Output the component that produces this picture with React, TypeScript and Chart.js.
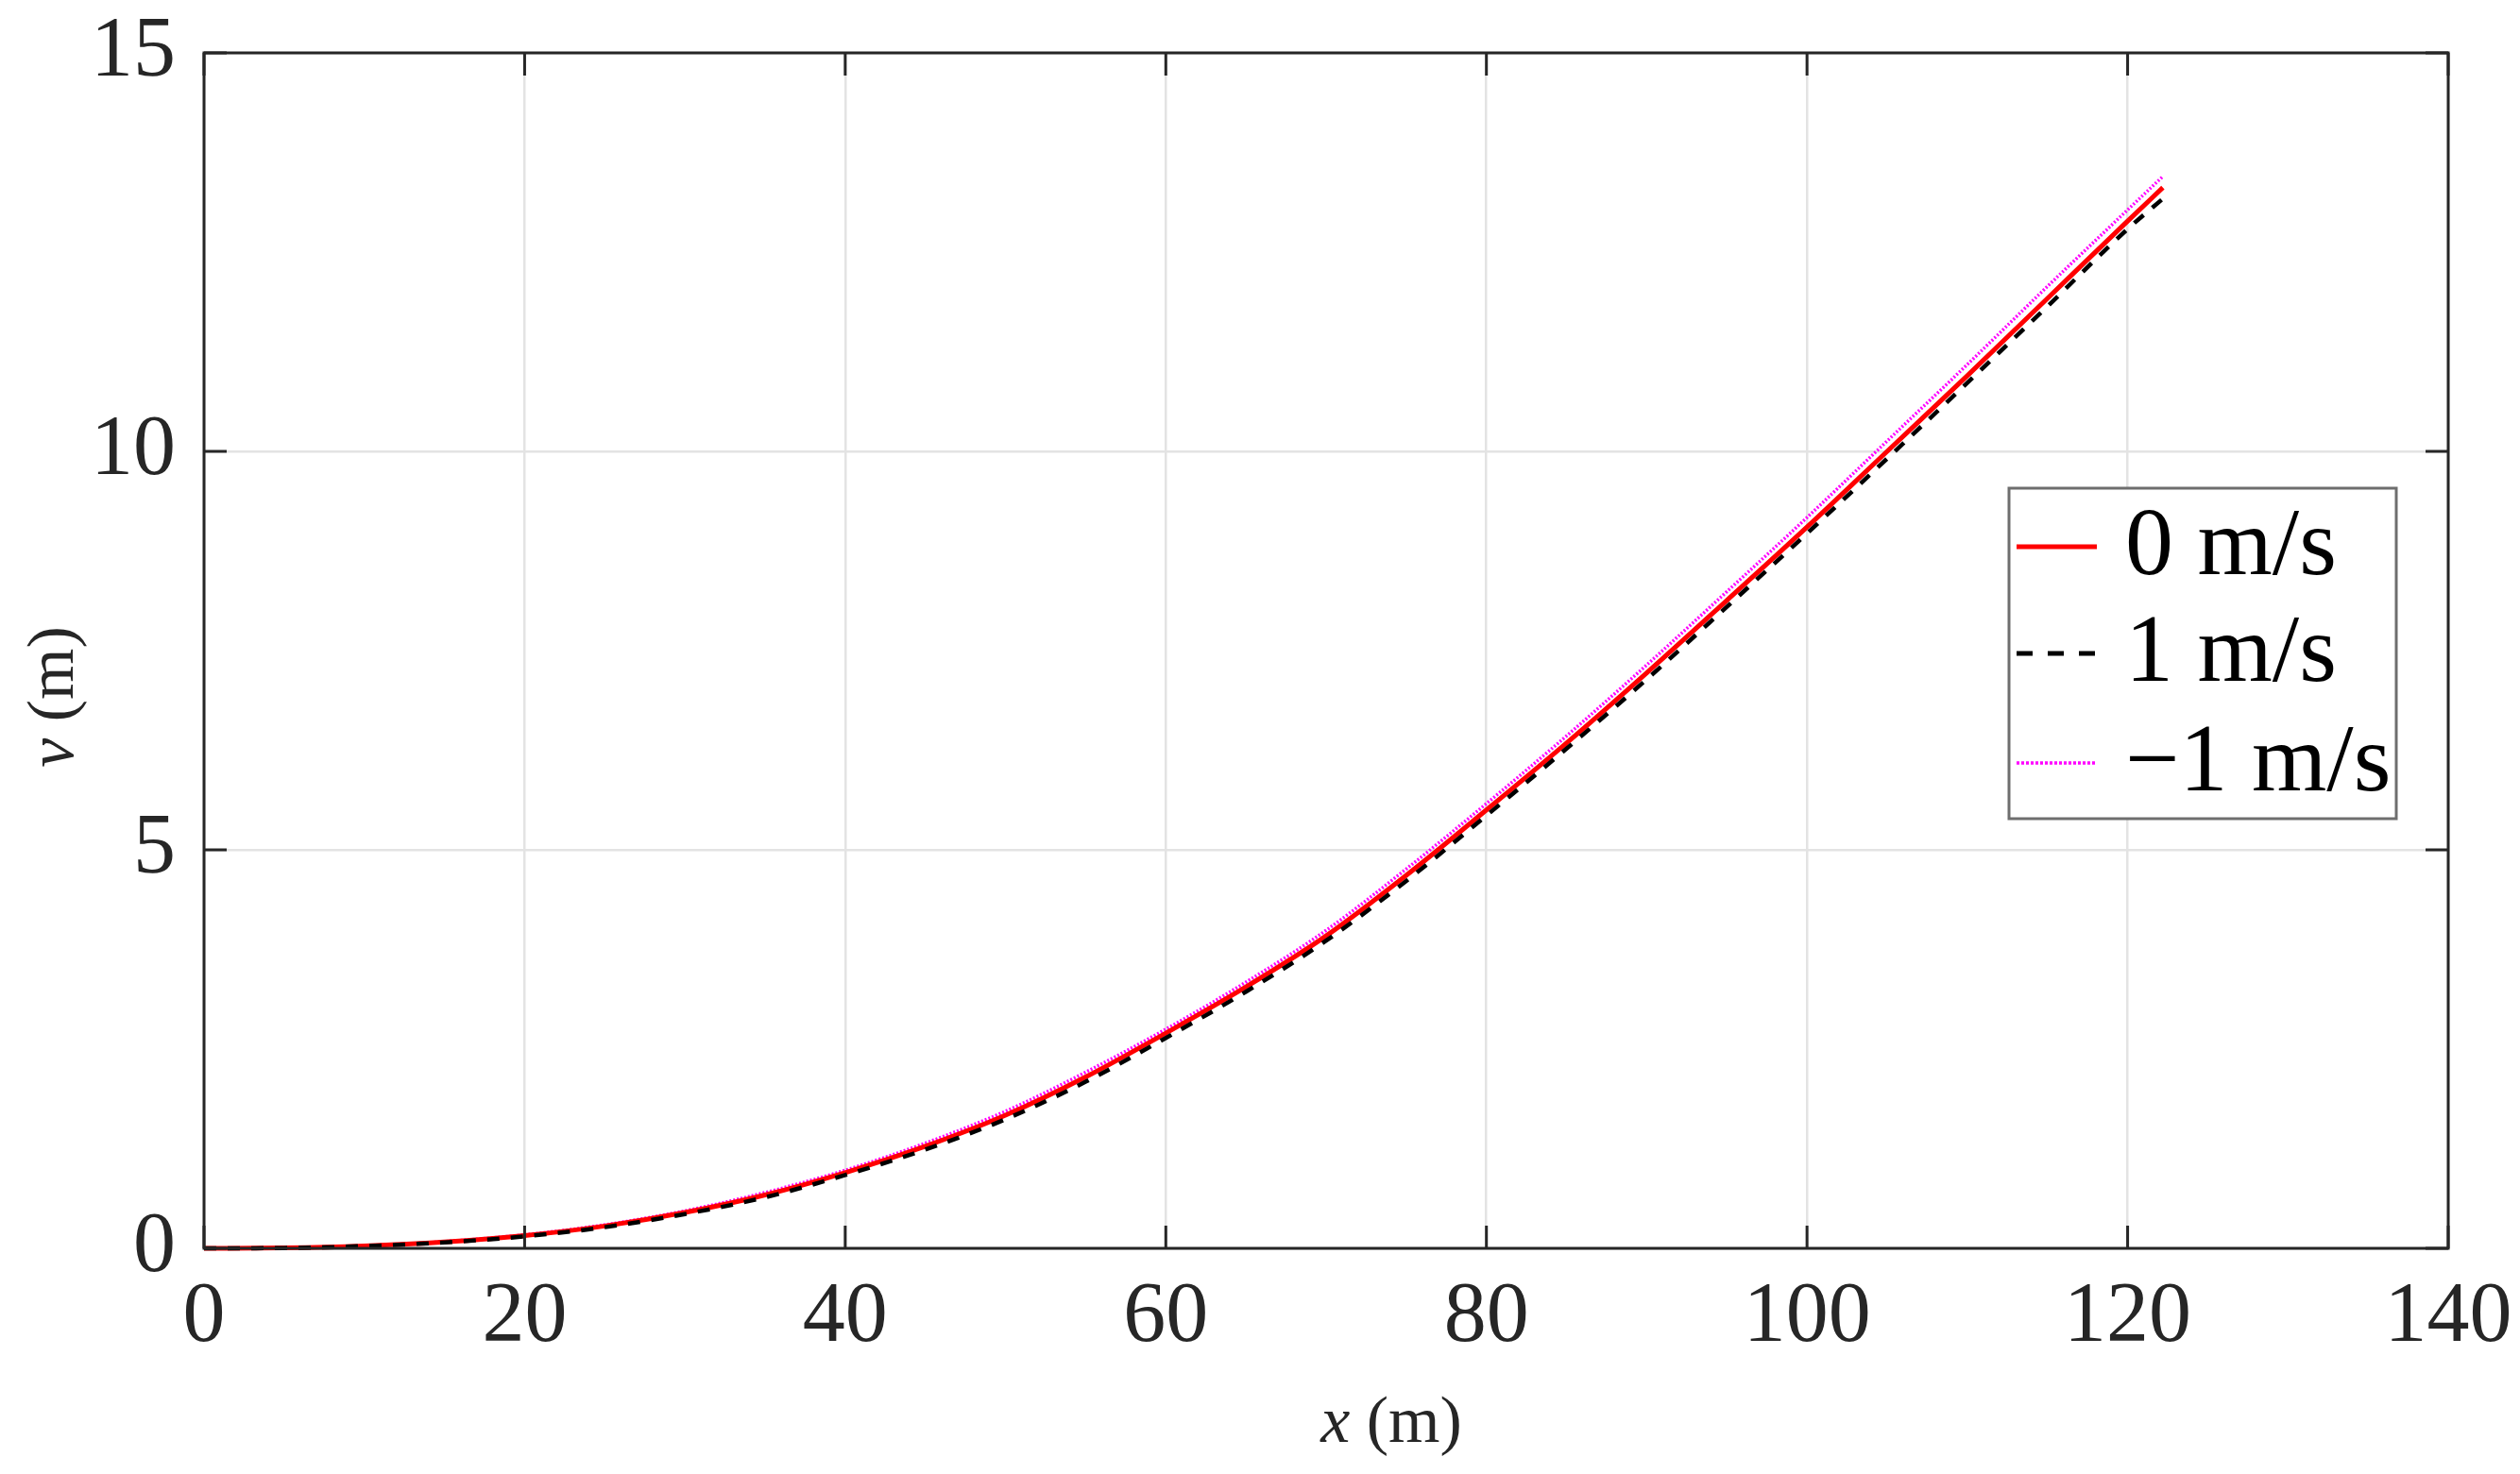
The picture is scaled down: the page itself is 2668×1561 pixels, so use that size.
import React, { useEffect, useRef } from 'react';
import { Chart, registerables } from 'chart.js';

Chart.register(...registerables);

const xValues = [0, 5, 10, 15, 20, 25, 30, 35, 40, 45, 50, 55, 60, 65, 70, 75, 80, 85, 90, 95, 100, 105, 110, 115, 120, 122.2];
const v0 = [0, 0.005, 0.03, 0.08, 0.16, 0.28, 0.45, 0.67, 0.95, 1.28, 1.67, 2.15, 2.70, 3.28, 3.92, 4.68, 5.50, 6.34, 7.22, 8.13, 9.05, 10.0, 10.95, 11.92, 12.89, 13.31];
const v1 = [0, 0.004, 0.028, 0.075, 0.15, 0.265, 0.43, 0.64, 0.92, 1.24, 1.62, 2.09, 2.64, 3.22, 3.86, 4.61, 5.43, 6.27, 7.14, 8.05, 8.97, 9.91, 10.86, 11.82, 12.79, 13.17];
const vm1 = [0, 0.006, 0.032, 0.085, 0.17, 0.295, 0.47, 0.70, 0.98, 1.32, 1.72, 2.21, 2.75, 3.34, 3.99, 4.76, 5.58, 6.43, 7.32, 8.24, 9.17, 10.13, 11.09, 12.07, 13.03, 13.45];
const seriesLabels = ['0 m/s', '1 m/s', '\u22121 m/s'];
const xTicks = [0, 20, 40, 60, 80, 100, 120, 140];
const yTicks = [0, 5, 10, 15];

const FONT = '"Liberation Serif", "Times New Roman", serif';
const AXIS_COLOR = '#262626';

const toPoints = (ys: number[]) => ys.map((y, i) => ({ x: xValues[i], y }));

const legendDashes: (number[])[] = [[], [17, 16], [3, 2]];

const decorPlugin = {
  id: 'decor',
  afterDatasetsDraw(chart: any) {
    const { ctx, chartArea } = chart;
    const { left, right, top, bottom } = chartArea;
    const xs = chart.scales.x;
    const ys = chart.scales.y;
    ctx.save();
    ctx.strokeStyle = AXIS_COLOR;
    ctx.lineWidth = 3;
    const tl = 24;
    ctx.beginPath();
    xTicks.forEach((t) => {
      const px = xs.getPixelForValue(t);
      ctx.moveTo(px, bottom);
      ctx.lineTo(px, bottom - tl);
      ctx.moveTo(px, top);
      ctx.lineTo(px, top + tl);
    });
    yTicks.forEach((t) => {
      const py = ys.getPixelForValue(t);
      ctx.moveTo(left, py);
      ctx.lineTo(left + tl, py);
      ctx.moveTo(right, py);
      ctx.lineTo(right - tl, py);
    });
    ctx.stroke();
    ctx.lineWidth = 3;
    ctx.strokeRect(left, top, right - left, bottom - top);

    // axis titles
    ctx.fillStyle = AXIS_COLOR;
    ctx.textBaseline = 'alphabetic';
    const titleSize = 70;
    const italic = `italic ${titleSize}px ${FONT}`;
    const normal = `${titleSize}px ${FONT}`;
    ctx.font = italic;
    const wx = ctx.measureText('x').width;
    ctx.font = normal;
    const wr = ctx.measureText(' (m)').width;
    const cx = 1473;
    const startX = cx - (wx + wr) / 2;
    ctx.font = italic;
    ctx.textAlign = 'left';
    ctx.fillText('x', startX, 1527);
    ctx.font = normal;
    ctx.fillText(' (m)', startX + wx, 1527);
    ctx.save();
    ctx.translate(77, 738);
    ctx.rotate(-Math.PI / 2);
    ctx.font = italic;
    const wv = ctx.measureText('v').width;
    ctx.font = normal;
    const wr2 = ctx.measureText(' (m)').width;
    const sx = -(wv + wr2) / 2;
    ctx.font = italic;
    ctx.fillText('v', sx, 0);
    ctx.font = normal;
    ctx.fillText(' (m)', sx + wv, 0);
    ctx.restore();

    // legend
    const bx = 2127, by = 517, bw = 410, bh = 350;
    ctx.fillStyle = '#ffffff';
    ctx.fillRect(bx, by, bw, bh);
    ctx.strokeStyle = '#6e6e6e';
    ctx.lineWidth = 3;
    ctx.strokeRect(bx, by, bw, bh);
    const rows = [579, 692, 808];
    chart.data.datasets.forEach((ds: any, i: number) => {
      const ry = rows[i];
      ctx.strokeStyle = ds.borderColor;
      ctx.lineWidth = i === 2 ? 3.5 : 5;
      ctx.setLineDash(legendDashes[i]);
      ctx.beginPath();
      ctx.moveTo(2135, ry);
      ctx.lineTo(2220, ry);
      ctx.stroke();
      ctx.setLineDash([]);
      ctx.fillStyle = '#000000';
      ctx.font = `102px ${FONT}`;
      ctx.textAlign = 'left';
      ctx.textBaseline = 'middle';
      ctx.fillText(ds.label, 2250, ry + 2);
    });
    ctx.restore();
  },
};

export default function App() {
  const canvasRef = useRef<HTMLCanvasElement | null>(null);

  useEffect(() => {
    if (!canvasRef.current) return;
    const chart = new Chart(canvasRef.current, {
      type: 'line',
      data: {
        datasets: [
          {
            label: seriesLabels[0],
            data: toPoints(v0),
            borderColor: '#ff0000',
            borderWidth: 5,
            pointRadius: 0,
            cubicInterpolationMode: 'monotone',
            order: 1,
            clip: 10,
          },
          {
            label: seriesLabels[1],
            data: toPoints(v1),
            borderColor: '#000000',
            borderWidth: 4.5,
            borderDash: [13, 12],
            pointRadius: 0,
            cubicInterpolationMode: 'monotone',
            order: 0,
            clip: 10,
          },
          {
            label: seriesLabels[2],
            data: toPoints(vm1),
            borderColor: '#ff00ff',
            borderWidth: 3.5,
            borderDash: [2, 2],
            pointRadius: 0,
            cubicInterpolationMode: 'monotone',
            order: 2,
            clip: 10,
          },
        ],
      } as any,
      options: {
        responsive: false,
        animation: false,
        layout: { padding: { left: 0, right: 76, top: 56, bottom: 0 } },
        plugins: {
          legend: { display: false },
          tooltip: { enabled: false },
        },
        scales: {
          x: {
            type: 'linear',
            min: 0,
            max: 140,
            afterBuildTicks: (scale: any) => {
              scale.ticks = xTicks.map((v) => ({ value: v }));
            },
            afterFit: (scale: any) => {
              scale.height = 239;
              scale.paddingLeft = 0;
              scale.paddingRight = 0;
            },
            ticks: {
              padding: 20,
              color: AXIS_COLOR,
              font: { family: FONT, size: 90 },
              maxRotation: 0,
            },
            grid: { color: '#e3e3e3', lineWidth: 2.5, drawTicks: false },
            border: { display: false },
          },
          y: {
            type: 'linear',
            min: 0,
            max: 15,
            afterBuildTicks: (scale: any) => {
              scale.ticks = yTicks.map((v) => ({ value: v }));
            },
            afterFit: (scale: any) => {
              scale.width = 216;
              scale.paddingTop = 0;
              scale.paddingBottom = 0;
            },
            ticks: {
              padding: 30,
              color: AXIS_COLOR,
              font: { family: FONT, size: 90 },
            },
            grid: { color: '#e3e3e3', lineWidth: 2.5, drawTicks: false },
            border: { display: false },
          },
        },
      } as any,
      plugins: [decorPlugin],
    });
    return () => chart.destroy();
  }, []);

  return (
    <div style={{ position: 'absolute', left: 0, top: 0, width: 2668, height: 1561, background: '#ffffff' }}>
      <canvas ref={canvasRef} width={2668} height={1561} style={{ width: 2668, height: 1561, display: 'block' }} />
    </div>
  );
}
